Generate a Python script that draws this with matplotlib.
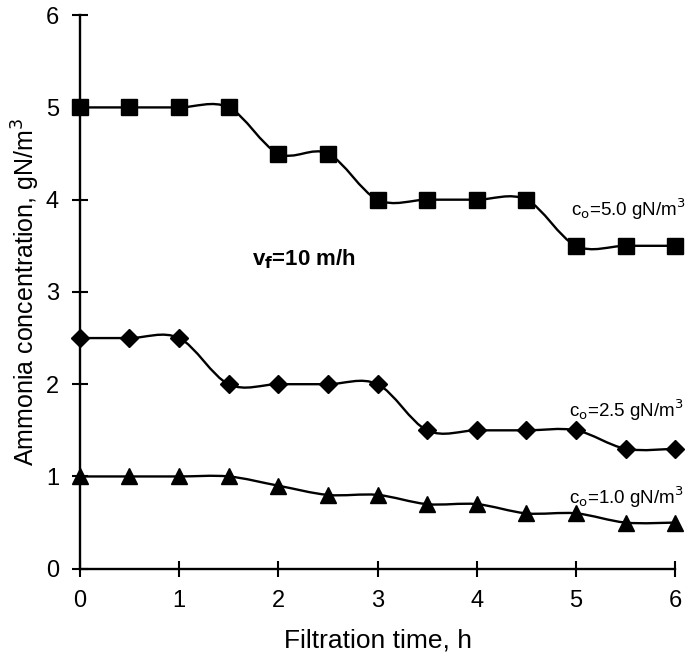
import numpy as np
import matplotlib
matplotlib.use("Agg")
import matplotlib.pyplot as plt
from matplotlib.path import Path
from matplotlib.patches import PathPatch

plt.rcParams['font.family'] = ['Liberation Sans', 'DejaVu Sans']

# filtration time, h
time_h = [0, 0.5, 1, 1.5, 2, 2.5, 3, 3.5, 4, 4.5, 5, 5.5, 6]
# ammonia concentration, gN/m3
c50 = [5, 5, 5, 5, 4.5, 4.5, 4, 4, 4, 4, 3.5, 3.5, 3.5]
c25 = [2.5, 2.5, 2.5, 2, 2, 2, 2, 1.5, 1.5, 1.5, 1.5, 1.3, 1.3]
c10 = [1, 1, 1, 1, 0.9, 0.8, 0.8, 0.7, 0.7, 0.6, 0.6, 0.5, 0.5]

series = [(c50, 's', 11), (c25, 'D', 9), (c10, '^', 11)]


def smooth_path(x, y):
    # catmull-rom style bezier, like a spreadsheet "smoothed line"
    p = np.column_stack([x, y]).astype(float)
    verts = [p[0]]
    codes = [Path.MOVETO]
    n = len(p)
    for i in range(n - 1):
        p0 = p[i - 1] if i > 0 else p[i]
        p3 = p[i + 2] if i + 2 < n else p[i + 1]
        c1 = p[i] + (p[i + 1] - p0) / 6.0
        c2 = p[i + 1] - (p3 - p[i]) / 6.0
        verts += [c1, c2, p[i + 1]]
        codes += [Path.CURVE4] * 3
    return Path(verts, codes)


fig = plt.figure(figsize=(6.94, 6.59), dpi=100)
ax = fig.add_axes([0.115, 0.137, 0.858, 0.840])

for yv, mk, ms in series:
    ax.add_patch(PathPatch(smooth_path(time_h, yv), fill=False,
                           edgecolor='black', lw=1.7, zorder=2))
    ax.plot(time_h, yv, linestyle='none', marker=mk, ms=ms,
            color='black', zorder=3, clip_on=False)

ax.set_xlim(0, 6)
ax.set_ylim(0, 6)
ax.set_xticks(range(0, 7))
ax.set_yticks(range(0, 7))
for s in ['top', 'right']:
    ax.spines[s].set_visible(False)
for s in ['left', 'bottom']:
    ax.spines[s].set_linewidth(1.7)
ax.tick_params(direction='inout', length=12, width=1.5, labelsize=17, pad=9)

ax.set_xlabel('Filtration time, h', fontsize=19, labelpad=12)
ax.set_ylabel('Ammonia concentration, gN/m$^3$', fontsize=18, labelpad=3)

ax.text(4.95, 3.9, 'c$_\\mathrm{o}$=5.0 gN/m$^3$', fontsize=13.5, va='center')
ax.text(4.93, 1.72, 'c$_\\mathrm{o}$=2.5 gN/m$^3$', fontsize=13.5, va='center')
ax.text(4.93, 0.78, 'c$_\\mathrm{o}$=1.0 gN/m$^3$', fontsize=13.5, va='center')
ax.text(1.74, 3.35, 'v$_\\mathbf{f}$=10 m/h', fontsize=16, fontweight='bold', va='center')

fig.savefig('out.png', dpi=100)
